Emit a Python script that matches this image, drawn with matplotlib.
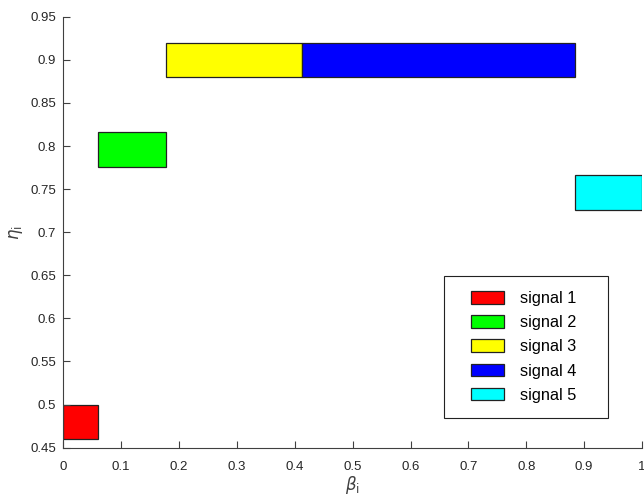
import matplotlib.pyplot as plt
from matplotlib.patches import Rectangle

plt.rcParams['font.family'] = ['Liberation Sans', 'DejaVu Sans']
plt.rcParams['mathtext.fontset'] = 'dejavusans'

labels = ['signal 1', 'signal 2', 'signal 3', 'signal 4', 'signal 5']
colors = ['#ff0000', '#00ff00', '#ffff00', '#0000ff', '#00ffff']
beta_start = [0.0, 0.06, 0.177, 0.413, 0.885]
beta_width = [0.06, 0.117, 0.236, 0.472, 0.115]
eta_start = [0.46, 0.776, 0.88, 0.88, 0.726]
eta_height = [0.04, 0.04, 0.04, 0.04, 0.04]

fig = plt.figure(figsize=(6.44, 4.96), dpi=100)
ax = fig.add_axes([0.0983, 0.0974, 0.8986, 0.8689])

for x0, w, y0, h, c, lab in zip(beta_start, beta_width, eta_start, eta_height, colors, labels):
    ax.add_patch(Rectangle((x0, y0), w, h, facecolor=c, edgecolor='#222222',
                           linewidth=0.9, label=lab))

ax.set_xlim(0, 1)
ax.set_ylim(0.45, 0.95)
ax.set_xticks([0, 0.1, 0.2, 0.3, 0.4, 0.5, 0.6, 0.7, 0.8, 0.9, 1])
ax.set_xticklabels(['0', '0.1', '0.2', '0.3', '0.4', '0.5', '0.6', '0.7', '0.8', '0.9', '1'])
ax.set_yticks([0.45, 0.5, 0.55, 0.6, 0.65, 0.7, 0.75, 0.8, 0.85, 0.9, 0.95])
ax.set_yticklabels(['0.45', '0.5', '0.55', '0.6', '0.65', '0.7', '0.75', '0.8', '0.85', '0.9', '0.95'])

for s in ['top', 'right']:
    ax.spines[s].set_visible(False)
for s in ['left', 'bottom']:
    ax.spines[s].set_color('#404040')
    ax.spines[s].set_linewidth(0.8)
ax.tick_params(direction='in', length=4.8, width=0.8, colors='#404040',
               labelcolor='#262626', labelsize=9.5)
ax.tick_params(axis='x', pad=9.5)
ax.tick_params(axis='y', pad=5)

ax.set_xlabel(r'$\beta_{\mathrm{i}}$', fontsize=12, color='#404040', labelpad=1)
ax.set_ylabel(r'$\eta_{\mathrm{i}}$', fontsize=12, color='#404040', labelpad=4)

# legend without frame, box drawn separately to match the padding
leg = ax.legend(loc='upper left', bbox_to_anchor=(0.7045, 0.363), borderaxespad=0,
                fontsize=11.7, frameon=False, borderpad=0,
                handlelength=2.03, handleheight=0.82, handletextpad=0.98,
                labelspacing=0.56)
for h in leg.legend_handles:
    h.set_linewidth(0.9)
ax.add_patch(Rectangle((0.658, 0.0696), 0.2834, 0.3288, transform=ax.transAxes,
                       facecolor='white', edgecolor='#222222', linewidth=0.8,
                       zorder=4, clip_on=False))
leg.set_zorder(5)

fig.savefig('out.png', dpi=100)
